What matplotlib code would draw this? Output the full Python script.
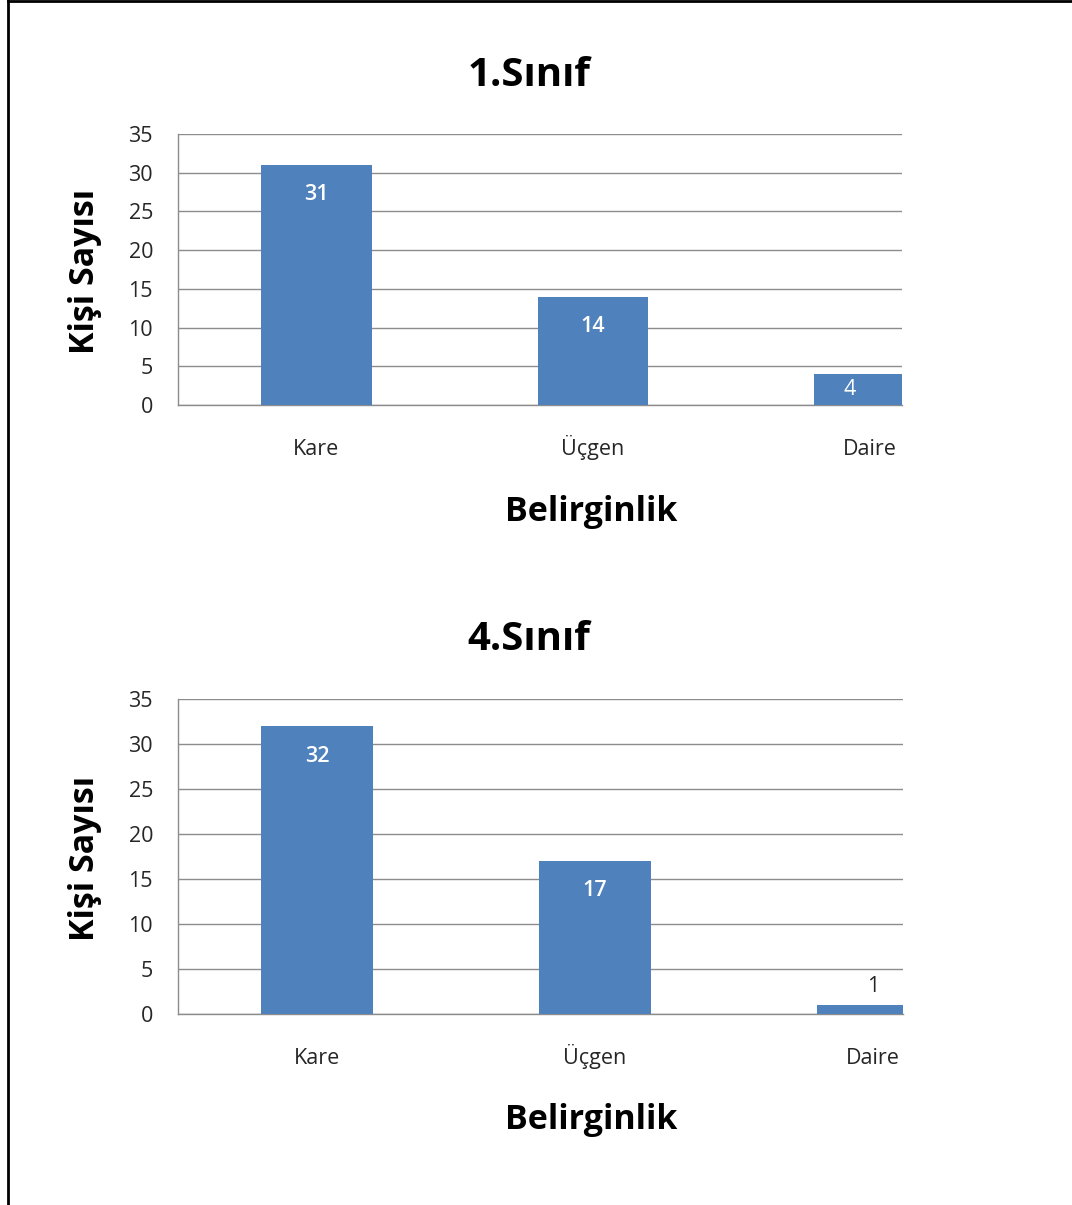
import matplotlib
matplotlib.use("Agg")
import matplotlib.pyplot as plt
from matplotlib.lines import Line2D

plt.rcParams['font.family'] = ['Open Sans', 'DejaVu Sans']

categories = ["Kare", "Üçgen", "Daire"]
counts_grade1 = [31, 14, 4]
counts_grade4 = [32, 17, 1]
titles = ["1.Sınıf", "4.Sınıf"]
y_ticks = [0, 5, 10, 15, 20, 25, 30, 35]
x_label = "Belirginlik"
y_label = "Kişi Sayısı"

BAR_COLOR = "#4F81BD"
GRID_COLOR = "#8C8C8C"

W, H = 1072, 1205
PT = 100 / 72  # pixels per point
fig = plt.figure(figsize=(W / 100, H / 100), dpi=100)

# panel boxes in pixel units: left, top, right, bottom
panels = [
    dict(box=(178, 134, 902, 405), xmax=2.117, title_y=75, xlabel_y=512, ylabel_x=85,
         values=counts_grade1, title=titles[0]),
    dict(box=(178, 699, 903, 1014), xmax=2.108, title_y=639, xlabel_y=1120, ylabel_x=85,
         values=counts_grade4, title=titles[1]),
]

for p in panels:
    l, t, r, b = p["box"]
    ax = fig.add_axes([l / W, 1 - b / H, (r - l) / W, (b - t) / H])
    x = list(range(len(categories)))
    ax.bar(x, p["values"], width=0.4, color=BAR_COLOR, zorder=3)
    ax.set_xlim(-0.5, p["xmax"])
    ax.set_ylim(0, 35)
    ax.set_yticks(y_ticks)
    ax.set_xticks(x)
    ax.set_xticklabels(categories)
    ax.tick_params(axis="both", length=0, labelsize=15.5)
    ax.tick_params(axis="x", pad=50 / PT)
    ax.tick_params(axis="y", pad=25 / PT)
    for lab in ax.get_xticklabels():
        lab.set_verticalalignment("baseline")
    for lab in ax.get_xticklabels() + ax.get_yticklabels():
        lab.set_color("#262626")
    ax.grid(axis="y", color=GRID_COLOR, linewidth=1.0, zorder=0)
    for side in ("top", "right"):
        ax.spines[side].set_visible(False)
    for side in ("left", "bottom"):
        ax.spines[side].set_color(GRID_COLOR)
        ax.spines[side].set_linewidth(1.0)

    # value labels: inside the top of tall bars, centred in short ones, above tiny ones
    px_per_unit = (b - t) / 35
    for xi, v in zip(x, p["values"]):
        left_edge = xi - 0.2
        right_edge = min(xi + 0.2, p["xmax"])
        cx = (left_edge + right_edge) / 2 - 0.03 * (right_edge < xi + 0.2)
        bar_px = v * px_per_unit
        if bar_px >= 60:
            ax.annotate(str(v), xy=(cx, v), xytext=(0, -30 / PT), textcoords="offset points",
                        ha="center", va="center", color="white", fontsize=15.5,
                        fontweight="semibold", zorder=4)
        elif bar_px >= 20:
            ax.annotate(str(v), xy=(cx, v / 2), ha="center", va="center",
                        color="white", fontsize=15.5, zorder=4)
        else:
            ax.annotate(str(v), xy=(xi, v), xytext=(0, 18 / PT), textcoords="offset points",
                        ha="center", va="center", color="#262626", fontsize=15.5, zorder=4)

    fig.text(529 / W, 1 - p["title_y"] / H, p["title"], ha="center", va="center",
             fontsize=29, fontweight="bold")
    fig.text(591 / W, 1 - p["xlabel_y"] / H, x_label, ha="center", va="center",
             fontsize=24.5, fontweight="bold")
    fig.text(p["ylabel_x"] / W, 1 - ((t + b) / 2 + 2) / H, y_label, ha="center", va="center",
             rotation=90, fontsize=24.5, fontweight="bold")

# page frame on the top and left edges
fig.add_artist(Line2D([8 / W, 8 / W], [0, 1], transform=fig.transFigure, color="black", linewidth=2))
fig.add_artist(Line2D([8 / W, 1], [1 - 1 / H, 1 - 1 / H], transform=fig.transFigure, color="black", linewidth=2))

fig.savefig("out.png", dpi=100)
